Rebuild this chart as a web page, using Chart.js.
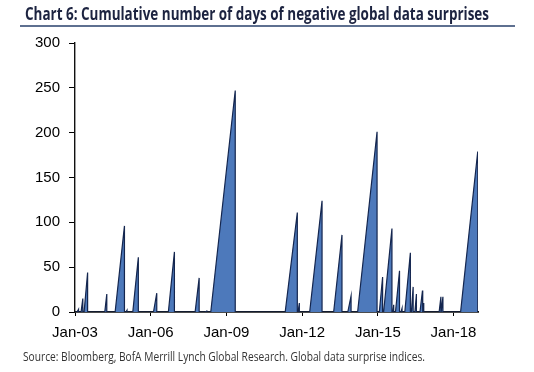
<!DOCTYPE html>
<html>
<head>
<meta charset="utf-8">
<script src="https://cdn.jsdelivr.net/npm/chart.js@4.4.1/dist/chart.umd.min.js"></script>
<style>
  body { margin: 0; background: #fff; }
  #wrap { position: relative; width: 534px; height: 372px; overflow: hidden; }
  #chart { position: absolute; left: 0; top: 0; }
  .fit { position: absolute; white-space: nowrap; transform-origin: 0 0; }
  #title { left: 25px; top: 5px; font: bold 17px/17px "Open Sans", sans-serif; color: #1c2340; }
  #rule { position: absolute; left: 20px; top: 25px; width: 495px; height: 2px; background: #5e7090; }
  #source { left: 23px; top: 351px; font: 12px/12px "Open Sans", sans-serif; color: #333; }
</style>
</head>
<body>
<div id="wrap">
  <canvas id="chart" width="534" height="372"></canvas>
  <div id="title" class="fit" data-w="464">Chart 6: Cumulative number of days of negative global data surprises</div>
  <div id="rule"></div>
  <div id="source" class="fit" data-w="402">Source: Bloomberg, BofA Merrill Lynch Global Research. Global data surprise indices.</div>
</div>
<script>
// each run of negative surprises: count starts at 0, climbs to a peak, then resets
const spikeStart  = [2003.08, 2003.24, 2003.36, 2004.18, 2004.59, 2005.02, 2005.29, 2006.11, 2006.70, 2007.76,
                     2008.16, 2008.38, 2011.33, 2011.84, 2012.30, 2013.25, 2013.81, 2014.20, 2015.06, 2015.23,
                     2015.60, 2015.70, 2015.92, 2016.07, 2016.33, 2016.47, 2016.67, 2016.79, 2017.43, 2017.51,
                     2018.28];
const spikePeakAt = [2003.14, 2003.31, 2003.50, 2004.26, 2004.96, 2005.06, 2005.51, 2006.24, 2006.94, 2007.92,
                     2008.22, 2009.35, 2011.81, 2011.89, 2012.79, 2013.58, 2013.94, 2014.97, 2015.19, 2015.56,
                     2015.63, 2015.86, 2015.96, 2016.29, 2016.40, 2016.53, 2016.77, 2016.82, 2017.50, 2017.58,
                     2018.96];
const spikePeak   = [3, 15, 44, 20, 96, 2, 61, 21, 67, 38,
                     1, 247, 111, 10, 124, 86, 18, 201, 39, 93,
                     8, 46, 4, 66, 28, 20, 24, 10, 17, 17,
                     179];
const tickYears  = [2003, 2006, 2009, 2012, 2015, 2018];
const tickLabels = ['Jan-03', 'Jan-06', 'Jan-09', 'Jan-12', 'Jan-15', 'Jan-18'];

let points = [{x: 2003, y: 0}];
for (let i = 0; i < spikeStart.length; i++) {
    points.push({x: spikeStart[i], y: 0});
    points.push({x: spikePeakAt[i], y: spikePeak[i]});
    points.push({x: spikePeakAt[i], y: 0});
}

const tickFont = {family: '"Liberation Sans", Arial, sans-serif', size: 15};

new Chart(document.getElementById('chart'), {
    type: 'line',
    data: {
        datasets: [{
            data: points,
            borderColor: '#14264f',
            borderWidth: 1.2,
            backgroundColor: '#4d79bb',
            fill: 'origin',
            tension: 0,
            pointRadius: 0
        }]
    },
    options: {
        responsive: false,
        animation: false,
        layout: { padding: { top: 43, right: 56, bottom: 0, left: 0 } },
        plugins: { legend: { display: false }, tooltip: { enabled: false } },
        scales: {
            x: {
                type: 'linear',
                min: 2003,
                max: 2018.97,
                afterFit: (s) => { s.height = 60; },
                afterBuildTicks: (s) => { s.ticks = tickYears.map(v => ({value: v})); },
                ticks: {
                    font: tickFont, color: '#000', padding: 8, maxRotation: 0,
                    callback: (v) => tickLabels[tickYears.indexOf(v)]
                },
                grid: { drawOnChartArea: false, color: '#000', tickLength: 4 },
                border: { color: '#111', width: 1.8 }
            },
            y: {
                min: 0,
                max: 300,
                afterFit: (s) => { s.width = 75; },
                ticks: { stepSize: 50, font: tickFont, color: '#000', padding: 9 },
                grid: { drawOnChartArea: false, color: '#000', tickLength: 6 },
                border: { color: '#111', width: 1.4 }
            }
        }
    }
});

// squeeze the condensed header/footer text to the reference widths
document.querySelectorAll('.fit').forEach(el => {
    const w = el.getBoundingClientRect().width;
    el.style.transform = 'scaleX(' + (el.dataset.w / w) + ')';
});
</script>
</body>
</html>
